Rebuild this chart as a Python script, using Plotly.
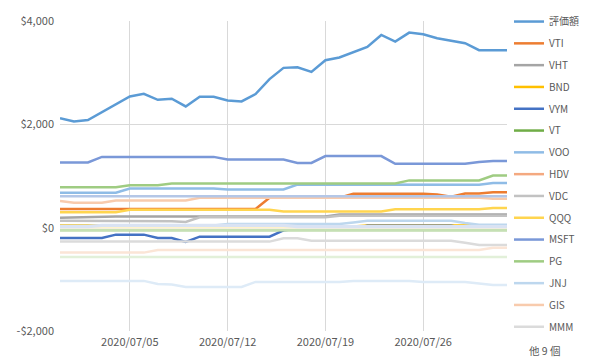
import plotly.graph_objects as go
import pandas as pd

dates = pd.date_range("2020-06-30", "2020-08-01", freq="D").strftime("%Y-%m-%d").tolist()

# series values
hyoka = [2120, 2057, 2084, 2231, 2393, 2539, 2591, 2475, 2495, 2346, 2533, 2533, 2462, 2443, 2586, 2875,
         3093, 3106, 3016, 3241, 3293, 3388, 3498, 3730, 3600, 3775, 3743, 3666, 3620, 3570, 3435, 3435, 3435]
vti = [360] * 15 + [579] * 6 + [656] * 6 + [640, 600, 662, 662, 687, 687]
vht = [193, 200, 210] + [215] * 17 + [257] * 13
bnd = [44] * 17 + [25] * 5 + [44] * 11
vym = [-200, -200, -200, -200, -135, -135, -135, -200, -200, -278, -174, -174, -174, -174, -174, -174,
       -52, -20, -20, -20, -20, -20, 35, 35, 35, 35, 35, 35, 35, -5, -35, -35, -35]
vt = [-45] * 33
voo = [675] * 5 + [758] * 7 + [739] * 5 + [836] * 7 + [830] * 7 + [864, 864]
hdv = [-40] * 15 + [-8] * 18
vdc = [135] * 8 + [125, 110] + [200] * 10 + [230] * 13
qqq = [300] * 5 + [345] * 11 + [315] * 8 + [355] * 7 + [380, 380]
msft = [1263] * 3 + [1370] * 9 + [1318] * 5 + [1254] * 2 + [1385] * 5 + [1235] * 6 + [1273, 1290, 1290]
pg = [784] * 5 + [822] * 3 + [855] * 17 + [915] * 6 + [1009, 1009]
jnj = [30] * 3 + [44] * 9 + [70] * 9 + [100] + [135] * 7 + [90, 58, 58, 58]
gis = [514, 482, 482, 482, 527, 527, 527, 527, 527, 527] + [579] * 21 + [560, 560]
mmm = [-270] * 16 + [-207] * 2 + [-255] * 11 + [-290, -335, -335, -335]
s16 = [15] * 33
s17 = [610] * 33
s18 = [-45] * 33
s19 = [-1030] * 7 + [-1090, -1100, -1146, -1146, -1146, -1146, -1146] + [-1050] * 7 + [-1030] * 5 + [-1050] * 4 + [-1080, -1110, -1110]
s20 = [-483] * 7 + [-432] * 24 + [-390, -390]
s21 = [0] * 33
s22 = [10] * 33
s23 = [20] * 3 + [44] * 14 + [20] * 16
s24 = [-567] * 33

names = ["評価額", "VTI", "VHT", "BND", "VYM", "VT", "VOO", "HDV", "VDC", "QQQ", "MSFT", "PG", "JNJ", "GIS", "MMM",
         "他1", "他2", "他3", "他4", "他5", "他6", "他7", "他8", "他9"]
values = [hyoka, vti, vht, bnd, vym, vt, voo, hdv, vdc, qqq, msft, pg, jnj, gis, mmm,
          s16, s17, s18, s19, s20, s21, s22, s23, s24]
colors = ["#5B9BD5", "#ED7D31", "#A5A5A5", "#FFC000", "#4472C4", "#70AD47",
          "#8FBCE6", "#F4A980", "#C2C2C2", "#FFD54F", "#7A98D8", "#9FCC82",
          "#BDD7EE", "#F8CBAD", "#DBDBDB", "#FFE699", "#B4C7E7", "#C5E0B4",
          "#DEEBF7", "#FBE5D6", "#EDEDED", "#FFF2CC", "#DAE3F3", "#E2F0D9"]

tick_dates = ["2020-07-05", "2020-07-12", "2020-07-19", "2020-07-26"]
tick_date_labels = ["2020/07/05", "2020/07/12", "2020/07/19", "2020/07/26"]
y_ticks = [-2000, 0, 2000, 4000]
y_tick_labels = ["-$2,000", "$0", "$2,000", "$4,000"]

fig = go.Figure()
for i, (n, v, c) in enumerate(zip(names, values, colors)):
    fig.add_trace(go.Scatter(
        x=dates, y=v, name=n, mode="lines",
        line=dict(color=c, width=3.2 if n in ("他3", "他8") else 2.5),
        legendgroup=f"g{i}",
        showlegend=i < 15,
    ))

# page body has an 8px default margin: figure is offset by (8, 8)
W, H = 588, 355
ml, mt, mr, mb = 52, 13, 89, 32
pw, ph = W - ml - mr, H - mt - mb

font_family = "Noto Sans CJK JP, Noto Sans, sans-serif"
fig.update_layout(
    width=W, height=H,
    margin=dict(l=ml, r=mr, t=mt, b=mb, autoexpand=False),
    paper_bgcolor="white", plot_bgcolor="white",
    font=dict(family=font_family, size=11, color="#595959"),
    showlegend=True,
    legend=dict(
        x=(509 - 60) / pw, xanchor="left",
        y=1.045, yanchor="top",
        font=dict(size=10, color="#595959"),
        tracegroupgap=2.8,
        maxheight=400,
        bgcolor="rgba(0,0,0,0)",
        itemclick=False, itemdoubleclick=False,
    ),
    xaxis=dict(
        type="date",
        range=[dates[0], dates[-1]],
        tickvals=tick_dates, ticktext=tick_date_labels,
        showgrid=True, gridcolor="#D9D9D9", gridwidth=1,
        zeroline=False, showline=False, ticks="",
        ticklabelstandoff=3,
        tickfont=dict(size=11, color="#595959"),
    ),
    yaxis=dict(
        range=[-2000, 4000],
        tickvals=y_ticks, ticktext=y_tick_labels,
        showgrid=True, gridcolor="#D9D9D9", gridwidth=1,
        zeroline=False, showline=False, ticks="",
        ticklabelstandoff=5,
        tickfont=dict(size=11, color="#595959"),
    ),
    annotations=[dict(
        text="他 9 個", x=(527 - 60) / pw, y=(331 - 350) / ph,
        xref="paper", yref="paper", xanchor="left", yanchor="middle",
        showarrow=False, font=dict(size=10.5, color="#595959"),
    )],
)

fig.write_html("out.html")
